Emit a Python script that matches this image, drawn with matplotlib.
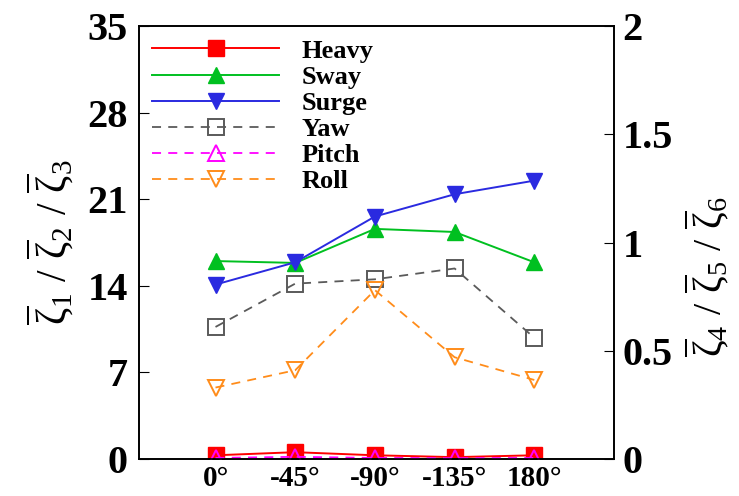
import matplotlib.pyplot as plt
import numpy as np

plt.rcParams['font.family'] = ['Liberation Serif', 'DejaVu Serif']
plt.rcParams['font.weight'] = 'bold'
plt.rcParams['mathtext.fontset'] = 'custom'
plt.rcParams['mathtext.rm'] = 'Liberation Serif'
plt.rcParams['mathtext.it'] = 'Liberation Serif:italic'
plt.rcParams['mathtext.default'] = 'regular'

angles = ['0°', '-45°', '-90°', '-135°', '180°']
heavy = [0.3, 0.55, 0.3, 0.15, 0.3]
sway = [16.0, 15.85, 18.6, 18.35, 15.9]
surge = [14.1, 15.9, 19.6, 21.4, 22.5]
yaw = [0.61, 0.81, 0.83, 0.88, 0.56]
pitch = [0.005, 0.01, 0.005, 0.004, 0.005]
roll = [0.33, 0.41, 0.78, 0.47, 0.365]

x = np.arange(1, len(angles) + 1)

fig = plt.figure(figsize=(7.39, 4.96), dpi=100)
ax1 = fig.add_axes([139 / 739, 1 - 459 / 496, 475 / 739, 433 / 496])
ax2 = ax1.twinx()

ms = 11
dash = (5, 4)
h1, = ax1.plot(x, heavy, '-s', color='#ff0000', ms=ms, lw=1.4, label='Heavy')
h2, = ax1.plot(x, sway, '-^', color='#00c020', ms=ms, lw=1.4, label='Sway')
h3, = ax1.plot(x, surge, '-v', color='#2a2ae0', ms=ms, lw=1.4, label='Surge')
h4, = ax2.plot(x, yaw, '--s', color='#5a5a5a', mfc='none', ms=ms, lw=1.3, mew=1.4, dashes=dash, label='Yaw')
h5, = ax2.plot(x, pitch, '--^', color='#ff00ff', mfc='none', ms=ms, lw=1.3, mew=1.4, dashes=dash, label='Pitch')
h6, = ax2.plot(x, roll, '--v', color='#ff8c1a', mfc='none', ms=ms, lw=1.3, mew=1.4, dashes=dash, label='Roll')

ax1.set_xlim(0.04, 6.0)
ax1.set_ylim(0, 35)
ax2.set_ylim(0, 2)
ax1.set_yticks([0, 7, 14, 21, 28, 35])
ax2.set_yticks([0, 0.5, 1, 1.5, 2])
ax2.set_yticklabels(['0', '0.5', '1', '1.5', '2'])
ax1.set_xticks(x)
ax1.set_xticklabels(angles, fontsize=21, fontweight='bold')
ax1.tick_params(axis='x', length=0, pad=4)
ax1.tick_params(axis='y', direction='in', length=7, labelsize=29, pad=8)
ax2.tick_params(axis='y', direction='in', length=7, labelsize=29, pad=6)
for a in (ax1, ax2):
    for s in a.spines.values():
        s.set_linewidth(1.2)

ax1.set_ylabel(r'$\overline{\zeta}_1\ /\ \overline{\zeta}_2\ /\ \overline{\zeta}_3$',
               fontsize=30, fontweight='normal', labelpad=8)
ax2.set_ylabel(r'$\overline{\zeta}_4\ /\ \overline{\zeta}_5\ /\ \overline{\zeta}_6$',
               fontsize=29, fontweight='normal')
ax2.yaxis.set_label_coords(1.145, 0.42)

leg = ax2.legend(handles=[h1, h2, h3, h4, h5, h6], loc='upper left', frameon=False,
                 handlelength=4.8, labelspacing=0.1, borderaxespad=0.3,
                 handletextpad=0.85, borderpad=0.2, prop={'weight': 'bold', 'size': 19})

fig.savefig('out.png', dpi=100)
